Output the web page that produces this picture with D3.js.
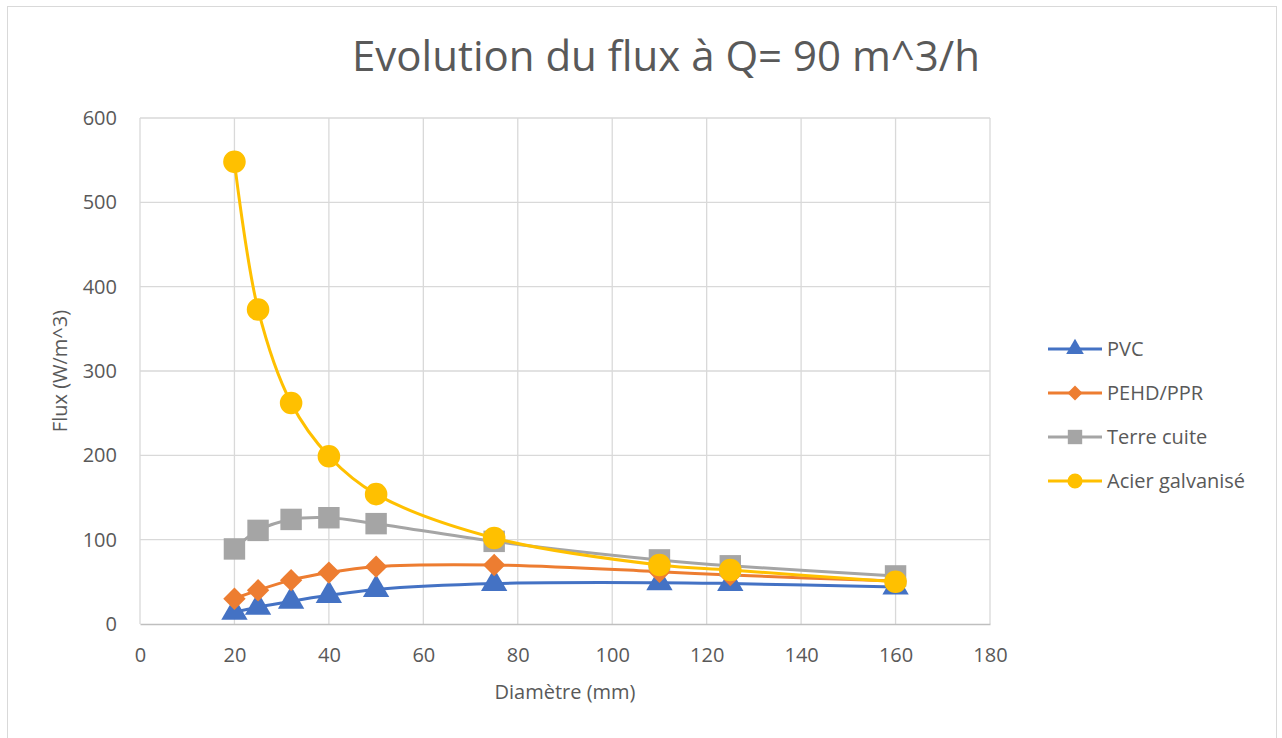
<!DOCTYPE html>
<html>
<head>
<meta charset="utf-8">
<script src="https://cdn.jsdelivr.net/npm/d3@7"></script>
<style>
body { margin: 0; background: #fff; }
text { font-family: "Open Sans", sans-serif; fill: #595959; }
</style>
</head>
<body>
<script>
// diameters (mm)
var diam = [20, 25, 32, 40, 50, 75, 110, 125, 160]
var pvc = [14, 20, 27, 34, 41, 48, 49, 48, 44]
var pehd = [30, 40, 52, 61, 68, 70, 62, 58, 51]
var terre = [89, 111, 124, 126, 119, 98, 76, 69, 57]
var acier = [548, 373, 262, 199, 154, 102, 70, 64, 50]
var seriesNames = ["PVC", "PEHD/PPR", "Terre cuite", "Acier galvanisé"]
var xTicks = [0, 20, 40, 60, 80, 100, 120, 140, 160, 180]
var yTicks = [0, 100, 200, 300, 400, 500, 600]

var W = 1282, H = 738
var plotL = 140, plotR = 990, plotT = 118, plotB = 624

// excel style diamond: square turned 45 degrees
var squareDiamond = {
    draw: function(ctx, size) {
        var r = Math.sqrt(size) / Math.SQRT2 * 1.0
        ctx.moveTo(0, -r)
        ctx.lineTo(r, 0)
        ctx.lineTo(0, r)
        ctx.lineTo(-r, 0)
        ctx.closePath()
    }
}

var series = [
    {name: seriesNames[0], values: pvc, color: "#4472C4", sym: d3.symbolTriangle, size: 300},
    {name: seriesNames[1], values: pehd, color: "#ED7D31", sym: squareDiamond, size: 250},
    {name: seriesNames[2], values: terre, color: "#A5A5A5", sym: d3.symbolSquare, size: 460},
    {name: seriesNames[3], values: acier, color: "#FFC000", sym: d3.symbolCircle, size: 400}
]

var svg = d3.select("body").append("svg")
    .attr("width", W)
    .attr("height", H)

svg.append("rect")
    .attr("x", 7.5).attr("y", 6.5)
    .attr("width", 1269).attr("height", 740)
    .attr("fill", "#fff").attr("stroke", "#d9d9d9")

var x = d3.scaleLinear().domain([0, 180]).range([plotL, plotR])
var y = d3.scaleLinear().domain([0, 600]).range([plotB, plotT])

// grid
svg.append("g").selectAll("line")
    .data(yTicks.slice(1))
    .enter().append("line")
    .attr("x1", plotL).attr("x2", plotR)
    .attr("y1", function(d) {return y(d)}).attr("y2", function(d) {return y(d)})
    .attr("stroke", "#d9d9d9").attr("stroke-width", 1.3)

svg.append("g").selectAll("line")
    .data(xTicks)
    .enter().append("line")
    .attr("x1", function(d) {return x(d)}).attr("x2", function(d) {return x(d)})
    .attr("y1", plotT).attr("y2", plotB)
    .attr("stroke", "#d9d9d9").attr("stroke-width", 1.3)

// axes
var xAxis = svg.append("g")
    .attr("transform", "translate(0," + plotB + ")")
    .call(d3.axisBottom(x).tickValues(xTicks).tickSize(0).tickPadding(24))
xAxis.select(".domain").attr("stroke", "#bfbfbf").attr("stroke-width", 1.5)
xAxis.selectAll("text").attr("font-size", 20).attr("fill", "#595959")
    .style("font-family", "'Open Sans', sans-serif")

var yAxis = svg.append("g")
    .attr("transform", "translate(" + plotL + ",0)")
    .call(d3.axisLeft(y).tickValues(yTicks).tickSize(0).tickPadding(23))
yAxis.select(".domain").remove()
yAxis.selectAll("text").attr("font-size", 20).attr("fill", "#595959")
    .style("font-family", "'Open Sans', sans-serif")

// lines
var line = d3.line()
    .x(function(d) {return x(d[0])})
    .y(function(d) {return y(d[1])})
    .curve(d3.curveCatmullRom.alpha(0.5))

series.forEach(function(s) {
    var pts = diam.map(function(d, i) {return [d, s.values[i]]})
    svg.append("path")
        .attr("d", line(pts))
        .attr("fill", "none")
        .attr("stroke", s.color)
        .attr("stroke-width", 3)
    svg.append("g").selectAll("path")
        .data(pts)
        .enter().append("path")
        .attr("d", d3.symbol().type(s.sym).size(s.size))
        .attr("transform", function(d) {return "translate(" + x(d[0]) + "," + y(d[1]) + ")"})
        .attr("fill", s.color)
})

// titles
svg.append("text")
    .attr("x", 666).attr("y", 71)
    .attr("text-anchor", "middle")
    .attr("font-size", 42)
    .text("Evolution du flux à Q= 90 m^3/h")

svg.append("text")
    .attr("x", 565).attr("y", 699)
    .attr("text-anchor", "middle")
    .attr("font-size", 20)
    .text("Diamètre (mm)")

svg.append("text")
    .attr("transform", "translate(67,371) rotate(-90)")
    .attr("text-anchor", "middle")
    .attr("font-size", 20)
    .text("Flux (W/m^3)")

// legend
var legend = svg.append("g").selectAll("g")
    .data(series)
    .enter().append("g")
    .attr("transform", function(d, i) {return "translate(1048," + (349 + i * 44) + ")"})

legend.append("line")
    .attr("x1", 0).attr("x2", 54)
    .attr("stroke", function(d) {return d.color})
    .attr("stroke-width", 3)
legend.append("path")
    .attr("d", function(d) {return d3.symbol().type(d.sym).size(d.size * 0.45)()})
    .attr("transform", "translate(27,0)")
    .attr("fill", function(d) {return d.color})
legend.append("text")
    .attr("x", 59).attr("y", 7)
    .attr("font-size", 20)
    .text(function(d) {return d.name})
</script>
</body>
</html>
